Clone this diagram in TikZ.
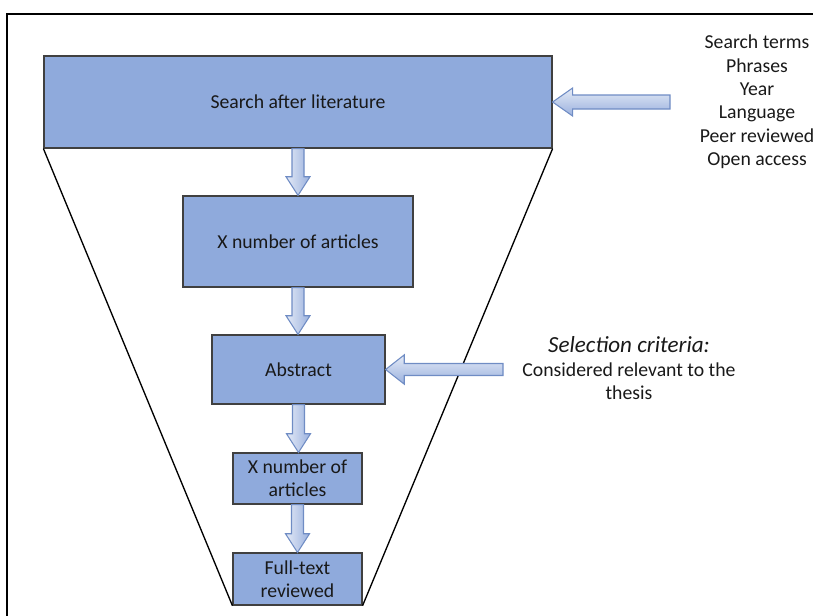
\documentclass[tikz,border=0pt]{standalone}
\usepackage{fontspec}
\setmainfont{Carlito}
\usetikzlibrary{calc}
\definecolor{boxfill}{HTML}{8FAADC}
\definecolor{boxline}{HTML}{404040}
\definecolor{arrline}{HTML}{6F8CC4}
\definecolor{arrlight}{HTML}{E4EAF6}
\definecolor{arrdark}{HTML}{9AB1DE}
\tikzset{
  stepbox/.style={draw=boxline, line width=0.9pt, fill=boxfill, inner sep=0pt, align=center, font=\fontsize{14.8}{17.3}\selectfont, text=black!90},
  varrow/.style={draw=arrline, line width=0.8pt, left color=arrlight, right color=arrdark, line join=miter},
  harrow/.style={draw=arrline, line width=0.8pt, top color=arrlight, bottom color=arrdark, line join=miter},
  funnel/.style={draw=black, line width=1pt},
  sidetext/.style={align=center, font=\fontsize{14.8}{17.5}\selectfont, text=black!90, inner sep=0pt},
}
\begin{document}
\begin{tikzpicture}[x=0.75pt, y=-0.75pt]
\useasboundingbox (0,0) rectangle (813,615);
\draw[black, line width=0.8pt] (7,616) -- (7,14) -- (814,14);
% boxes
\node[stepbox, minimum width=508*0.75pt, minimum height=92*0.75pt] (b1) at (298,102) {Search after literature};
\node[stepbox, minimum width=230*0.75pt, minimum height=91*0.75pt] (b2) at (298,241.5) {X number of articles};
\node[stepbox, minimum width=173*0.75pt, minimum height=69*0.75pt] (b3) at (298.5,369.5) {Abstract};
\node[stepbox, minimum width=129*0.75pt, minimum height=51*0.75pt] (b4) at (297.5,478.5) {X number of\\articles};
\node[stepbox, minimum width=129*0.75pt, minimum height=52*0.75pt] (b5) at (297.5,579) {Full-text\\reviewed};
% funnel
\draw[funnel] (b1.south west) -- (b5.south west);
\draw[funnel] (b1.south east) -- (b5.south east);
% down arrows
\foreach \a/\b in {b1/b2, b2/b3, b3/b4, b4/b5}{
  \draw[varrow] let \p1=(\a.south), \p2=(\b.north) in
    (\x1-4.5pt,\y1) -- (\x1+4.5pt,\y1) -- (\x1+4.5pt,\y2+14pt) -- (\x1+9pt,\y2+14pt)
    -- (\x1,\y2) -- (\x1-9pt,\y2+14pt) -- (\x1-4.5pt,\y2+14pt) -- cycle;
}
% side texts
\node[sidetext] (t1) at (757,102) {Search terms\\Phrases\\Year\\Language\\Peer reviewed\\Open access};
\coordinate (s1) at (670,102);
\node[sidetext, font=\fontsize{17.3}{20}\itshape] (t2) at (629,345) {Selection criteria:};
\node[sidetext] (t3) at (629,381.5) {Considered relevant to the\\thesis};
\coordinate (s2) at (503,369.5);
% left arrows
\draw[harrow] let \p1=(s1), \p2=(b1.east) in
  (\x1,\y1+5.25pt) -- (\x2+15pt,\y1+5.25pt) -- (\x2+15pt,\y1+10.5pt) -- (\x2,\y1)
  -- (\x2+15pt,\y1-10.5pt) -- (\x2+15pt,\y1-5.25pt) -- (\x1,\y1-5.25pt) -- cycle;
\draw[harrow] let \p1=(s2), \p2=(b3.east) in
  (\x1,\y1+4.5pt) -- (\x2+14pt,\y1+4.5pt) -- (\x2+14pt,\y1+11pt) -- (\x2,\y1)
  -- (\x2+14pt,\y1-11pt) -- (\x2+14pt,\y1-4.5pt) -- (\x1,\y1-4.5pt) -- cycle;
\end{tikzpicture}
\end{document}
